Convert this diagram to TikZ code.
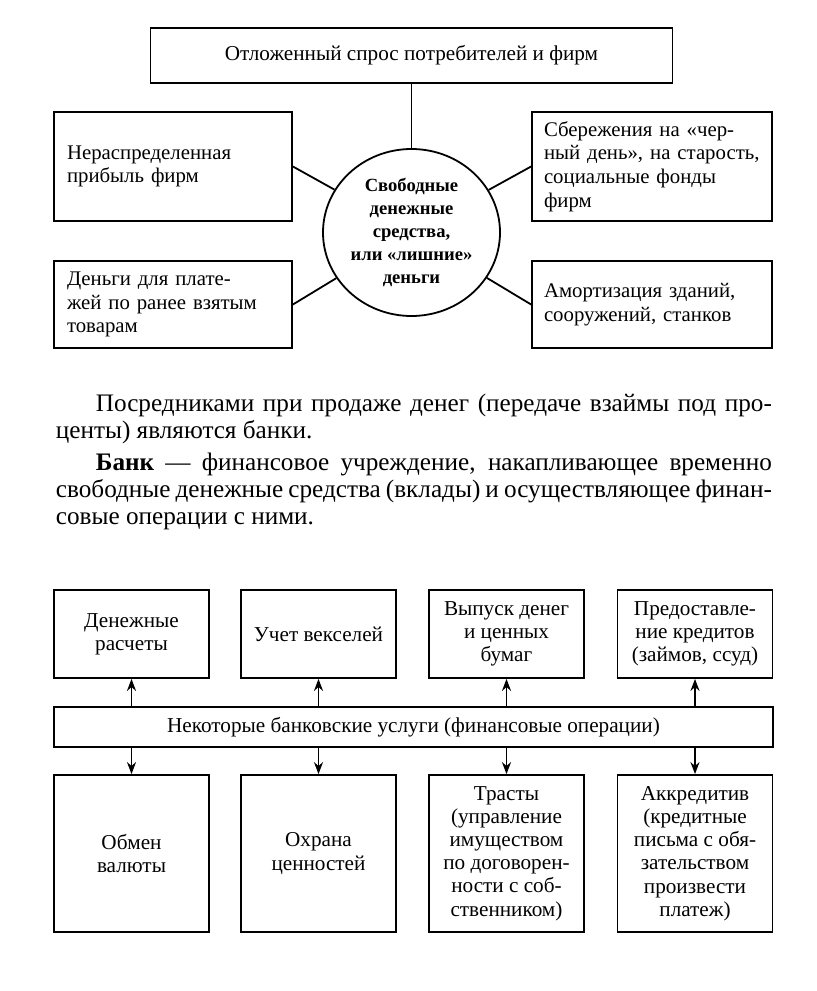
\documentclass[tikz,border=0pt]{standalone}
\usepackage{fontspec}
\setmainfont{Liberation Serif}
\usetikzlibrary{shapes.geometric, arrows.meta}

\tikzset{
  box/.style={draw, inner sep=0pt, align=center, font=\fontsize{10.6}{11.6}\selectfont},
  lbox/.style={draw, inner sep=0pt, inner xsep=6.5pt, text width=106pt, align=left,
    minimum height=#1, font=\fontsize{10.4}{11.8}\selectfont},
  opbox/.style={box, minimum width=77.5pt, minimum height=#1}
}

\begin{document}
\begin{tikzpicture}[>={Stealth[length=6pt, width=4.5pt]}, x=0.5pt, y=-0.5pt, line width=0.9pt]
      \useasboundingbox (0,0) rectangle (816,991);

      % Nodes
      \node[box, minimum width=261pt, minimum height=27.5pt] (O) at (411.5,55.5)
        {Отложенный спрос потребителей и фирм};
      \node[draw, ellipse, minimum width=88.5pt, minimum height=83.5pt, inner sep=0pt,
        align=center, font=\bfseries\fontsize{9.3}{11.5}\selectfont] (C) at (411.5,232.5)
        {Свободные\\денежные\\средства,\\или «лишние»\\деньги};
      \node[lbox=54.5pt] (L1) at (173,166.5) {Нераспределенная\\прибыль фирм};
      \node[lbox=43.5pt] (L2) at (173,304.5) {Деньги для плате-\\жей по ранее взятым\\товарам};
      \node[lbox=54.5pt, inner xsep=6pt, text width=108pt] (R1) at (652,166.5)
        {Сбережения на «чер-\\ный день», на старость,\\социальные фонды\\фирм};
      \node[lbox=43.5pt, inner xsep=6pt, text width=108pt] (R2) at (652,304.5)
        {Амортизация зданий,\\сооружений, станков};

      % Edges
      \draw (O.south -| C.north) -- (C.north);
      \draw (L1.east) -- (C);
      \draw (L2.east) -- (C);
      \draw (R1.west) -- (C);
      \draw (R2.west) -- (C);

      % Text
      \node[anchor=north west, text width=358pt, align=justify, inner sep=0pt,
        font=\fontsize{12.6}{13.4}\selectfont] (P) at (55,393)
        {\hspace*{20pt}Посредниками при продаже денег (передаче взаймы под про-\linebreak
         центы) являются банки.\par\vspace{2.8pt}
         \hspace*{20pt}\textbf{Банк} — финансовое учреждение, накапливающее временно\linebreak
         свободные денежные средства (вклады) и осуществляющее финан-\linebreak
         совые операции с ними.};

      % Services
      \node[box, minimum width=359.5pt, minimum height=20pt] (U) at (413.5,727)
        {Некоторые банковские услуги (финансовые операции)};
      \node[opbox=44pt] (T1) at (131.5,634) {Денежные\\расчеты};
      \node[opbox=44pt] (T2) at (318.5,634) {Учет векселей};
      \node[opbox=44pt] (T3) at (506.5,634) {Выпуск денег\\и ценных\\бумаг};
      \node[opbox=44pt] (T4) at (695,634) {Предоставле-\\ние кредитов\\(займов, ссуд)};
      \node[opbox=78.5pt] (B1) at (131.5,853.5) {Обмен\\валюты};
      \node[opbox=78.5pt] (B2) at (318.5,853.5) {Охрана\\ценностей};
      \node[opbox=78.5pt] (B3) at (506.5,853.5)
        {Трасты\\(управление\\имуществом\\по договорен-\\ности с соб-\\ственником)};
      \node[opbox=78.5pt] (B4) at (695,853.5)
        {Аккредитив\\(кредитные\\письма с обя-\\зательством\\произвести\\платеж)};

      % Arrows
      \draw[->] (T1.south |- U.north) -- (T1.south);
      \draw[->] (T2.south |- U.north) -- (T2.south);
      \draw[->] (T3.south |- U.north) -- (T3.south);
      \draw[->] (T4.south |- U.north) -- (T4.south);
      \draw[->] (B1.north |- U.south) -- (B1.north);
      \draw[->] (B2.north |- U.south) -- (B2.north);
      \draw[->] (B3.north |- U.south) -- (B3.north);
      \draw[->] (B4.north |- U.south) -- (B4.north);
    \end{tikzpicture}
\end{document}
